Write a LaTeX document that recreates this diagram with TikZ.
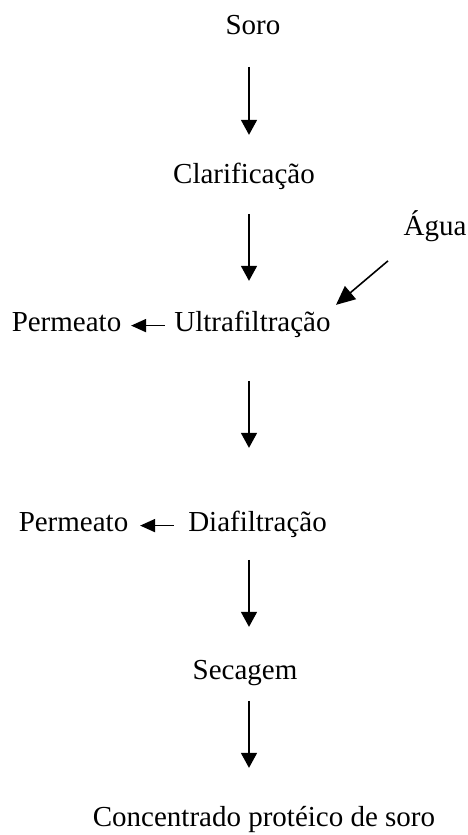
\documentclass[tikz,border=0pt]{standalone}
\usepackage{fontspec}
\setmainfont{Liberation Serif}
\usepackage{tikz}
\usetikzlibrary{calc}
\usetikzlibrary{arrows.meta}
\usetikzlibrary{positioning}

\begin{document}
\begin{tikzpicture}[
        stage/.style   = {inner sep=0pt, anchor=base, text height=0.7em, text depth=0.2em,
                          font=\fontsize{16.5}{20}\selectfont},
        flow/.style    = {line width=0.9pt, -{Triangle[length=0.30cm, width=0.32cm]}},
        inflow/.style  = {line width=0.9pt, -{Triangle[length=0.38cm, width=0.34cm]}},
        sideflow/.style= {line width=1pt, transform canvas={yshift=0.04cm},
                          -{Triangle[length=0.30cm, width=0.26cm]}}]
            \useasboundingbox                                             (0.00, 0.00) rectangle (9.34,16.70);
            \coordinate (spine)                                        at (4.98, 0.00);
            \node[stage] (soro)                                        at (5.06,16.00) {Soro};
            \node[stage] (clarif)                                      at (4.88,13.02) {Clarificação};
            \node[stage] (agua)                                        at (8.70,11.98) {Água};
            \node[stage] (ultra)                                       at (5.05,10.06) {Ultrafiltração};
            \node[stage] (permultra)                                   at (1.33,10.06) {Permeato};
            \node[stage] (dia)                                         at (5.15, 6.06) {Diafiltração};
            \node[stage] (permdia)                                     at (1.47, 6.06) {Permeato};
            \node[stage] (secagem)                                     at (4.90, 3.10) {Secagem};
            \node[stage] (concentrado)                                 at (5.28, 0.18) {Concentrado protéico de soro};
            % main line
            \draw[flow, shorten <=0.56cm, shorten >=0.73cm] (soro.south -| spine)    -- (clarif.north -| spine);
            \draw[flow, shorten <=0.52cm, shorten >=0.77cm] (clarif.south -| spine)  -- (ultra.north -| spine);
            \draw[flow, shorten <=0.90cm, shorten >=1.43cm] (ultra.south -| spine)   -- (dia.north -| spine);
            \draw[flow, shorten <=0.48cm, shorten >=0.81cm] (dia.south -| spine)     -- (secagem.north -| spine);
            \draw[flow, shorten <=0.34cm, shorten >=0.91cm] (secagem.south -| spine) -- (concentrado.north -| spine);
            % water in, permeate out
            \draw[inflow] ([xshift=-0.94cm, yshift=-0.42cm]agua.south) -- ([xshift=1.67cm, yshift=0.29cm]ultra.north);
            \draw[sideflow, shorten <=0.19cm, shorten >=0.19cm] (ultra.west) -- (permultra.east);
            \draw[sideflow, shorten <=0.28cm, shorten >=0.23cm] (dia.west)   -- (permdia.east);
        \end{tikzpicture}
\end{document}
